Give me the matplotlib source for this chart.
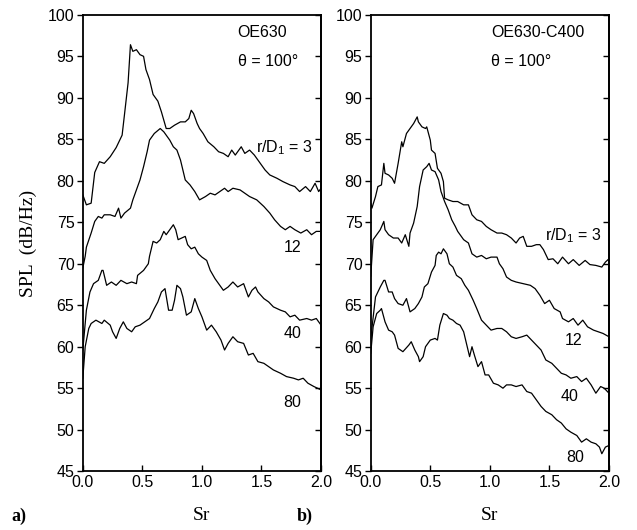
import matplotlib
matplotlib.use("Agg")
import matplotlib.pyplot as plt
import numpy as np

plt.rcParams['font.family'] = ['Liberation Sans', 'DejaVu Sans']
plt.rcParams['mathtext.fontset'] = 'custom'
plt.rcParams['mathtext.rm'] = 'Liberation Sans'
plt.rcParams['mathtext.default'] = 'regular'

# ---- panel a) OE630, theta = 100 deg ----
a_sr_3 = [0.00, 0.03, 0.07, 0.10, 0.14, 0.18, 0.23, 0.28, 0.31, 0.33, 0.35, 0.38, 0.40, 0.42,
          0.45, 0.48, 0.51, 0.53, 0.56, 0.59, 0.63, 0.66, 0.70, 0.73, 0.77, 0.82, 0.86, 0.89,
          0.91, 0.93, 0.96, 0.98, 1.01, 1.05, 1.10, 1.14, 1.18, 1.22, 1.25, 1.28, 1.33, 1.36,
          1.40, 1.44, 1.49, 1.53, 1.57, 1.63, 1.68, 1.74, 1.78, 1.82, 1.87, 1.91, 1.95, 1.98, 2.00]
a_spl_3 = [78.3, 77.1, 77.3, 81.0, 82.3, 82.1, 82.9, 84.0, 84.9, 85.5, 88.0, 91.8, 96.4, 95.6,
           95.8, 95.2, 95.0, 93.4, 92.2, 90.4, 89.6, 88.3, 86.3, 86.3, 86.7, 87.1, 87.1, 87.5,
           88.5, 88.1, 86.9, 86.3, 85.7, 84.7, 84.1, 83.5, 83.3, 82.9, 83.7, 83.1, 84.1, 83.3,
           83.7, 83.1, 82.1, 81.3, 80.7, 80.3, 79.9, 79.5, 79.3, 78.7, 79.3, 78.7, 79.7, 78.7, 79.1]

a_sr_12 = [0.00, 0.02, 0.03, 0.07, 0.10, 0.13, 0.16, 0.18, 0.23, 0.27, 0.30, 0.32, 0.35, 0.40,
           0.42, 0.45, 0.48, 0.51, 0.54, 0.56, 0.60, 0.65, 0.68, 0.70, 0.73, 0.76, 0.79, 0.82,
           0.86, 0.90, 0.94, 0.98, 1.03, 1.07, 1.11, 1.15, 1.19, 1.22, 1.26, 1.32, 1.36, 1.40,
           1.46, 1.52, 1.57, 1.61, 1.66, 1.70, 1.74, 1.78, 1.83, 1.88, 1.92, 1.96, 2.00]
a_spl_12 = [69.5, 70.9, 72.0, 73.7, 75.1, 75.7, 75.5, 75.9, 75.9, 75.7, 76.7, 75.5, 76.1, 76.7,
            77.7, 78.9, 80.1, 81.7, 83.5, 84.9, 85.7, 86.3, 85.9, 85.5, 84.9, 84.1, 83.7, 82.5,
            80.1, 79.5, 78.7, 77.7, 78.1, 78.5, 78.3, 78.7, 79.1, 78.7, 79.1, 78.9, 78.5, 78.1,
            77.7, 76.9, 76.1, 75.3, 74.5, 74.1, 74.5, 74.1, 73.7, 74.1, 73.5, 73.9, 73.9]

a_sr_40 = [0.00, 0.03, 0.06, 0.09, 0.13, 0.16, 0.17, 0.20, 0.24, 0.28, 0.32, 0.37, 0.41, 0.45,
           0.46, 0.51, 0.55, 0.56, 0.59, 0.62, 0.65, 0.68, 0.70, 0.73, 0.76, 0.78, 0.80, 0.83,
           0.86, 0.88, 0.91, 0.94, 0.97, 1.00, 1.04, 1.07, 1.11, 1.15, 1.18, 1.22, 1.26, 1.30,
           1.35, 1.39, 1.42, 1.45, 1.47, 1.52, 1.56, 1.60, 1.66, 1.70, 1.74, 1.78, 1.82, 1.88,
           1.92, 1.96, 2.00]
a_spl_40 = [59.6, 64.4, 66.6, 67.6, 68.0, 69.2, 69.2, 67.4, 67.8, 67.4, 68.0, 67.6, 67.8, 67.6,
            68.6, 69.2, 70.0, 70.9, 72.7, 72.5, 72.9, 73.9, 73.5, 74.1, 74.7, 74.1, 72.9, 73.1,
            73.3, 72.3, 71.8, 72.0, 71.2, 70.8, 70.4, 69.2, 68.2, 67.4, 66.8, 67.2, 67.8, 67.2,
            67.6, 66.0, 66.8, 67.2, 66.6, 65.8, 65.4, 64.8, 64.4, 64.2, 63.6, 63.8, 63.2, 63.4,
            63.2, 63.4, 62.6]

a_sr_80 = [0.00, 0.02, 0.05, 0.07, 0.11, 0.16, 0.18, 0.23, 0.25, 0.28, 0.31, 0.34, 0.37, 0.41,
           0.44, 0.48, 0.52, 0.56, 0.60, 0.63, 0.66, 0.69, 0.72, 0.75, 0.77, 0.79, 0.82, 0.84,
           0.87, 0.91, 0.94, 0.97, 1.00, 1.04, 1.08, 1.12, 1.16, 1.19, 1.22, 1.26, 1.30, 1.35,
           1.39, 1.43, 1.47, 1.52, 1.56, 1.60, 1.66, 1.71, 1.77, 1.81, 1.85, 1.89, 1.94, 2.00]
a_spl_80 = [56.2, 60.0, 62.2, 62.8, 63.2, 62.8, 63.2, 62.6, 61.8, 61.0, 62.2, 63.0, 62.2, 61.8,
            62.4, 62.6, 63.0, 63.4, 64.6, 65.4, 66.6, 67.0, 64.4, 64.4, 65.6, 67.4, 67.0, 66.0,
            63.8, 64.2, 65.8, 64.6, 63.6, 62.0, 62.6, 61.8, 60.8, 59.6, 60.4, 61.2, 60.6, 60.4,
            59.0, 59.2, 58.2, 58.0, 57.6, 57.2, 56.8, 56.4, 56.2, 56.0, 56.2, 55.6, 55.2, 54.8]

# ---- panel b) OE630-C400, theta = 100 deg ----
b_sr_3 = [0.00, 0.01, 0.04, 0.06, 0.09, 0.11, 0.12, 0.15, 0.18, 0.20, 0.23, 0.26, 0.27, 0.30,
          0.33, 0.36, 0.39, 0.40, 0.43, 0.46, 0.47, 0.50, 0.51, 0.54, 0.56, 0.59, 0.61, 0.62,
          0.65, 0.69, 0.73, 0.78, 0.82, 0.85, 0.89, 0.93, 0.97, 1.01, 1.06, 1.10, 1.14, 1.18,
          1.22, 1.25, 1.28, 1.31, 1.35, 1.39, 1.42, 1.45, 1.49, 1.53, 1.57, 1.61, 1.66, 1.70,
          1.75, 1.80, 1.84, 1.89, 1.94, 1.97, 2.00]
b_spl_3 = [77.3, 76.7, 78.1, 79.3, 79.5, 82.1, 80.9, 80.7, 80.3, 79.7, 82.1, 84.7, 84.1, 85.7,
           86.3, 86.9, 87.7, 87.1, 86.5, 86.3, 86.5, 84.9, 83.7, 83.3, 81.5, 80.9, 79.9, 77.9,
           77.7, 77.5, 77.5, 77.1, 77.1, 75.9, 75.3, 75.1, 74.5, 74.1, 73.7, 73.7, 73.5, 73.1,
           72.5, 73.1, 73.3, 72.1, 72.1, 72.3, 72.3, 71.7, 70.5, 70.6, 70.0, 70.8, 70.0, 70.5,
           69.8, 70.4, 69.9, 69.8, 69.6, 70.2, 70.6]

b_sr_12 = [0.00, 0.02, 0.05, 0.08, 0.11, 0.12, 0.15, 0.19, 0.23, 0.26, 0.29, 0.32, 0.33, 0.36,
           0.39, 0.41, 0.44, 0.47, 0.49, 0.51, 0.54, 0.57, 0.59, 0.62, 0.65, 0.68, 0.71, 0.73,
           0.78, 0.82, 0.85, 0.89, 0.93, 0.97, 1.01, 1.06, 1.08, 1.11, 1.14, 1.18, 1.22, 1.28,
           1.34, 1.38, 1.42, 1.46, 1.50, 1.54, 1.59, 1.61, 1.66, 1.70, 1.74, 1.78, 1.82, 1.87,
           1.91, 1.95, 2.00]
b_spl_12 = [68.5, 72.9, 73.5, 74.1, 75.1, 74.1, 73.5, 73.1, 73.1, 72.5, 73.5, 72.1, 73.7, 74.9,
            76.9, 79.3, 81.3, 81.7, 82.1, 81.3, 81.1, 80.1, 78.7, 77.5, 76.5, 75.3, 74.5, 73.9,
            72.9, 72.5, 71.2, 70.8, 71.0, 70.6, 70.8, 70.8, 70.0, 69.4, 68.4, 68.0, 67.8, 67.6,
            67.4, 67.0, 66.2, 65.2, 65.6, 64.6, 64.2, 63.4, 63.0, 63.4, 62.6, 63.2, 62.4, 62.0,
            61.8, 61.6, 61.2]

b_sr_40 = [0.00, 0.04, 0.08, 0.11, 0.12, 0.15, 0.18, 0.20, 0.23, 0.27, 0.30, 0.33, 0.37, 0.40,
           0.43, 0.45, 0.48, 0.51, 0.54, 0.55, 0.57, 0.59, 0.61, 0.64, 0.66, 0.69, 0.72, 0.76,
           0.79, 0.82, 0.86, 0.89, 0.93, 0.97, 1.01, 1.06, 1.10, 1.14, 1.18, 1.22, 1.27, 1.31,
           1.35, 1.39, 1.43, 1.47, 1.52, 1.56, 1.60, 1.64, 1.68, 1.73, 1.77, 1.81, 1.85, 1.89,
           1.93, 1.96, 2.00]
b_spl_40 = [61.0, 66.0, 67.2, 68.0, 68.0, 66.6, 66.6, 65.8, 65.2, 65.0, 65.8, 64.2, 64.6, 65.2,
            66.0, 67.2, 67.6, 69.0, 69.8, 71.0, 71.4, 71.2, 71.8, 71.2, 70.0, 69.6, 68.6, 68.2,
            67.4, 66.8, 65.6, 64.6, 63.2, 62.6, 62.0, 62.2, 62.2, 61.8, 61.2, 61.0, 61.2, 61.4,
            60.8, 60.2, 59.6, 58.4, 58.0, 57.4, 56.8, 56.6, 56.2, 56.4, 55.8, 56.2, 55.4, 54.4,
            55.2, 55.0, 54.4]

b_sr_80 = [0.00, 0.02, 0.05, 0.08, 0.09, 0.12, 0.15, 0.18, 0.20, 0.23, 0.27, 0.32, 0.34, 0.37,
           0.40, 0.41, 0.44, 0.46, 0.50, 0.54, 0.56, 0.58, 0.61, 0.64, 0.66, 0.69, 0.72, 0.75,
           0.78, 0.80, 0.83, 0.85, 0.87, 0.90, 0.93, 0.96, 0.99, 1.03, 1.07, 1.11, 1.14, 1.18,
           1.22, 1.27, 1.31, 1.35, 1.39, 1.43, 1.47, 1.52, 1.56, 1.60, 1.64, 1.68, 1.73, 1.77,
           1.81, 1.85, 1.89, 1.92, 1.94, 1.97, 2.00]
b_spl_80 = [59.2, 62.4, 64.0, 64.4, 64.6, 63.0, 62.0, 61.8, 61.4, 59.8, 59.4, 60.2, 60.6, 59.6,
            58.8, 58.2, 58.8, 60.0, 60.8, 61.0, 60.8, 62.6, 64.0, 63.8, 63.4, 63.2, 62.8, 62.6,
            61.8, 60.6, 58.8, 60.0, 59.0, 57.6, 58.2, 56.6, 56.6, 55.6, 55.4, 55.0, 55.4, 55.4,
            55.2, 55.4, 54.6, 54.4, 53.6, 52.8, 52.2, 51.8, 51.2, 50.8, 50.1, 49.7, 49.3, 48.5,
            48.9, 48.5, 48.3, 47.9, 47.1, 47.9, 48.1]

curve_labels = ["r/D$_1$ = 3", "12", "40", "80"]
a_label_pos = [(1.45, 84.0), (1.76, 71.9), (1.76, 61.6), (1.76, 53.3)]
b_label_pos = [(1.46, 73.4), (1.70, 60.8), (1.67, 54.0), (1.72, 46.7)]

fig = plt.figure(figsize=(6.37, 5.30), dpi=100)
ax_a = fig.add_axes([0.130, 0.111, 0.374, 0.861])
ax_b = fig.add_axes([0.582, 0.111, 0.374, 0.861])

panels = [
    (ax_a, [(a_sr_3, a_spl_3), (a_sr_12, a_spl_12), (a_sr_40, a_spl_40), (a_sr_80, a_spl_80)],
     a_label_pos, "OE630", 1.30, "a)", -0.30),
    (ax_b, [(b_sr_3, b_spl_3), (b_sr_12, b_spl_12), (b_sr_40, b_spl_40), (b_sr_80, b_spl_80)],
     b_label_pos, "OE630-C400", 1.01, "b)", -0.31),
]

for ax, curves, lpos, name, name_x, tag, tag_x in panels:
    for sr, spl in curves:
        ax.plot(sr, spl, color='black', lw=0.9)
    for lab, (x, y) in zip(curve_labels, lpos):
        ha = 'left' if lab.startswith('r') else 'center'
        ax.text(x, y, lab, fontsize=11.5, ha=ha, va='center')
    ax.text(name_x, 97.9, name, fontsize=11.5, ha='left', va='center')
    ax.text(name_x, 94.4, "θ = 100°", fontsize=11.5, ha='left', va='center')

    ax.set_xlim(0, 2)
    ax.set_ylim(45, 100)
    ax.set_xticks([0.0, 0.5, 1.0, 1.5, 2.0])
    ax.set_xticklabels(["0.0", "0.5", "1.0", "1.5", "2.0"])
    ax.set_yticks(range(45, 101, 5))
    ax.tick_params(axis='x', direction='in', length=4, width=1, labelsize=11.5, pad=3)
    ax.tick_params(axis='y', direction='out', length=4, width=1, labelsize=11.5, pad=2)
    sec = ax.secondary_yaxis('right')
    sec.set_yticks(range(45, 101, 5))
    sec.tick_params(direction='in', length=4, width=1, labelright=False)
    for s in ax.spines.values():
        s.set_linewidth(1.3)
    sec.spines['right'].set_linewidth(1.3)

    ax.set_xlabel("Sr", family='Liberation Serif', fontsize=14, labelpad=12)
    ax.text(tag_x, -0.099, tag, transform=ax.transAxes, family='Liberation Serif',
            fontweight='bold', fontsize=13, ha='left', va='center')

ax_a.set_ylabel("SPL  (dB/Hz)", family='Liberation Serif', fontsize=14, labelpad=8)

fig.savefig("out.png", dpi=100)
